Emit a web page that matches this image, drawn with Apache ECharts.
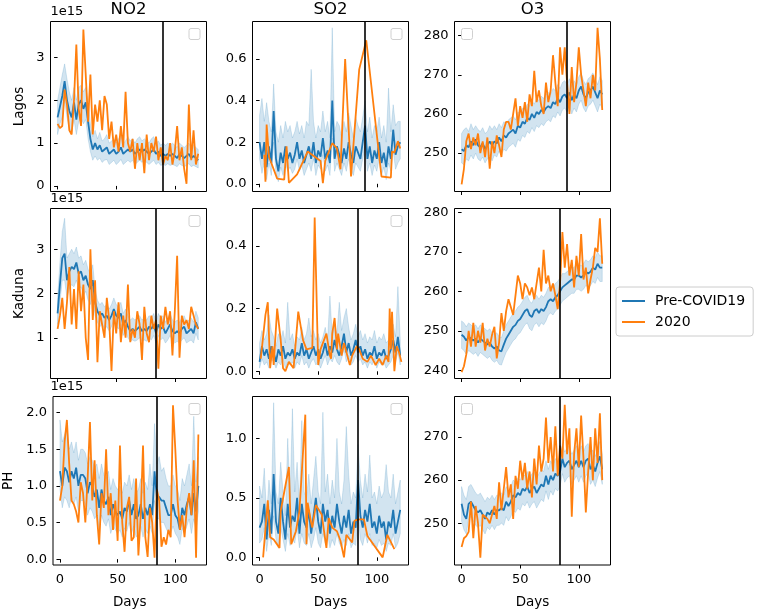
<!DOCTYPE html>
<html><head><meta charset="utf-8">
<script src="https://cdn.jsdelivr.net/npm/echarts@6/dist/echarts.min.js"></script>
<style>html,body{margin:0;padding:0;background:#fff}#c{width:761px;height:610px}</style>
</head><body><div id="c"></div>
<script>
// ---------------- DATA ----------------
const days = [0,2,4,6,8,10,12,14,16,18,20,22,24,26,28,30,32,34,36,38,40,42,44,46,48,50,52,54,56,58,
  60,62,64,66,68,70,72,74,76,78,80,82,84,86,88,90,92,94,96,98,100,102,104,106,108,110,112,114,116,118,120];
const rowNames = ['Lagos','Kaduna','PH'];
const colNames = ['NO2','SO2','O3'];
const cutoffDays = [90, 84, 84];
const xTicks = [0, 50, 100];
const seriesNames = ['Pre-COVID19', '2020'];
const sciLabel = '1e15';

// Lagos NO2 (x1e15)
const lagosNO2Mean = [1.6,1.85,2.1,2.45,2.0,1.75,1.6,1.95,1.55,1.9,
 2.0,1.8,1.95,1.5,1.1,0.85,1.0,0.85,0.95,0.8,
 0.85,0.9,0.75,0.8,0.85,0.75,0.8,0.9,0.75,0.8,
 0.85,0.8,0.85,0.75,0.8,0.85,0.8,0.85,0.8,0.75,
 0.8,0.85,0.75,0.8,0.7,0.75,0.7,0.75,0.7,0.75,
 0.7,0.65,0.75,0.7,0.65,0.7,0.75,0.65,0.7,0.65,
 0.6];
const lagosNO2Hi = [2.0,2.3,2.6,2.85,2.5,2.2,2.0,2.3,2.0,2.3,
 2.35,2.2,2.3,1.95,1.45,1.15,1.3,1.1,1.25,1.05,
 1.1,1.2,1.0,1.05,1.1,1.0,1.1,1.2,1.0,1.05,
 1.15,1.05,1.1,1.0,1.1,1.15,1.05,1.1,1.05,1.0,
 1.1,1.15,1.0,1.05,0.95,1.0,0.95,1.0,0.95,1.0,
 0.95,0.9,1.0,0.95,0.9,0.95,1.0,0.9,0.95,0.9,
 0.85];
const lagosNO2Lo = [1.2,1.45,1.6,2.0,1.6,1.35,1.25,1.55,1.2,1.5,
 1.6,1.45,1.55,1.1,0.8,0.6,0.7,0.6,0.65,0.55,
 0.6,0.62,0.5,0.55,0.6,0.5,0.55,0.62,0.5,0.55,
 0.6,0.55,0.6,0.5,0.55,0.6,0.55,0.6,0.55,0.5,
 0.55,0.6,0.5,0.55,0.48,0.5,0.48,0.52,0.48,0.5,
 0.48,0.45,0.52,0.48,0.45,0.48,0.52,0.45,0.48,0.45,
 0.42];
const lagosNO2_2020 = [1.45,1.35,1.4,2.25,1.9,1.3,1.2,2.0,3.3,1.8,
 1.4,3.65,2.6,1.5,2.6,1.2,1.9,1.5,2.0,1.3,
 2.1,1.9,1.1,1.5,0.9,1.2,0.8,1.4,0.9,2.2,
 1.0,0.8,1.1,0.4,1.0,0.6,1.0,0.3,1.2,0.6,
 1.0,0.8,1.15,0.6,0.9,0.5,0.7,0.6,1.0,0.5,
 0.8,1.4,0.6,0.9,0.4,0.05,1.9,0.6,1.3,0.5,
 0.75];

// Lagos SO2
const lagosSO2Mean = [0.2,0.12,0.2,0.08,0.18,0.1,0.35,0.12,0.06,0.15,
 0.1,0.18,0.12,0.15,0.1,0.14,0.2,0.12,0.16,0.1,
 0.14,0.18,0.12,0.2,0.1,0.16,0.13,0.22,0.12,0.16,
 0.1,0.4,0.12,0.18,0.14,0.1,0.17,0.12,0.2,0.14,
 0.1,0.18,0.15,0.12,0.2,0.28,0.12,0.18,0.1,0.16,
 0.12,0.2,0.1,0.15,0.08,0.18,0.12,0.26,0.14,0.18,
 0.2];
const lagosSO2Hi = [0.33,0.41,0.3,0.39,0.3,0.25,0.48,0.25,0.2,0.28,
 0.22,0.3,0.25,0.28,0.22,0.25,0.3,0.24,0.28,0.22,
 0.3,0.28,0.55,0.3,0.22,0.28,0.25,0.35,0.25,0.3,
 0.22,0.75,0.25,0.3,0.28,0.22,0.3,0.25,0.34,0.28,
 0.22,0.32,0.28,0.25,0.32,0.4,0.25,0.32,0.22,0.28,
 0.25,0.32,0.22,0.28,0.2,0.46,0.25,0.38,0.28,0.3,
 0.3];
const lagosSO2Lo = [0.12,0.05,0.1,0.02,0.1,0.04,0.2,0.05,0.01,0.08,
 0.04,0.1,0.06,0.08,0.05,0.07,0.12,0.06,0.09,0.04,
 0.07,0.1,0.06,0.12,0.04,0.09,0.07,0.14,0.06,0.09,
 0.04,0.22,0.06,0.1,0.07,0.04,0.1,0.06,0.12,0.07,
 0.04,0.1,0.08,0.06,0.12,0.18,0.06,0.1,0.04,0.09,
 0.06,0.12,0.04,0.08,0.02,0.1,0.06,0.16,0.07,0.1,
 0.12];
const lagosSO2Days2020 = [4,5,6,8,15,21,23,25,32,41,52,54,56,62,66,69,73,78,85,91,104,112,113,115,118,120];
const lagosSO2_2020 = [0.14,0.01,0.285,0.13,0.025,0.02,0.18,0.005,0.045,0.155,0.11,0.003,0.11,0.195,0.17,0.07,0.6,0.035,0.55,0.69,0.035,0.03,0.155,0.15,0.205,0.17];

// Lagos O3
const lagosO3Mean = [251,250.5,252,251.5,253,252,253.5,252,251.5,252.5,
 251,252,253,252,253,252.5,254,253,254.5,254,
 255,255.5,256,255,257,256.5,258,257.5,259,258.5,
 260,259,260.5,260,261,260.5,261.5,262,261.5,263,
 262.5,264,263,264.5,265,264,265.5,263.5,265,264,
 266,267,265,264,265.5,266,267,265.5,264,266,
 265];
const lagosO3Hi = [255,256,256.5,255.5,257.5,256,257,256,255.5,256.5,
 255,255.5,257,256,257,256,257.5,256.5,258,257.5,
 258.5,259,259.5,258.5,260.5,260,261.5,261,262.5,262,
 263.5,262.5,264,263.5,264.5,264,265,265.5,265,266.5,
 266,267.5,266.5,268,268.5,267.5,269,267,268.5,267.5,
 269.5,270.5,268.5,267.5,269,269.5,270.5,269,267.5,269.5,
 268.5];
const lagosO3Lo = [247.5,247,248.5,248,249.5,248.5,250,248.5,248,249,
 247.5,248.5,249.5,248,249.5,249,250.5,249.5,251,250.5,
 251.5,252,252.5,251.5,253.5,253,254.5,254,255.5,255,
 256.5,255.5,257,256.5,257.5,257,258,258.5,258,259.5,
 259,260.5,259.5,261,261.5,260.5,262,260,261.5,260.5,
 262.5,263.5,261.5,260.5,262,262.5,263.5,262,260.5,262.5,
 261.5];
const lagosO3_2020 = [242,246,253,255,251,254,252,255,250,253,
 249,254,246,253,250,254.5,252,249,256,258,
 258,256,260,264,257,262,259,263,258,265,
 262,271,263,266,262,260,268,263,266,275,
 268,262,277,270,277,268,260,272,263,268,
 277,270,266,262,268,264,270,266,282,274,
 261];

// Kaduna NO2 (x1e15)
const kadunaNO2Mean = [1.55,2.2,2.8,2.9,2.3,2.5,2.6,2.55,2.7,2.45,
 2.5,2.3,2.4,2.2,2.1,2.3,1.8,1.6,1.5,1.55,
 1.45,1.5,1.4,1.5,1.65,1.5,1.45,1.55,1.3,1.4,
 1.25,1.15,1.2,1.15,1.2,1.25,1.15,1.2,1.15,1.25,
 1.2,1.3,1.1,1.3,1.2,1.25,1.1,1.2,1.3,1.15,
 1.1,1.15,1.1,1.2,1.25,1.1,1.15,1.2,1.1,1.35,
 1.2];
const kadunaNO2Hi = [1.9,2.7,3.4,3.7,2.8,2.9,3.0,2.9,3.05,2.8,
 2.85,2.65,2.75,2.55,2.45,2.65,2.1,1.85,1.75,1.8,
 1.7,1.75,1.65,1.75,1.9,1.75,1.7,1.8,1.55,1.65,
 1.5,1.4,1.45,1.4,1.45,1.5,1.4,1.45,1.4,1.5,
 1.45,1.55,1.35,1.55,1.45,1.5,1.35,1.45,1.55,1.4,
 1.35,1.4,1.35,1.45,1.5,1.35,1.4,1.45,1.35,1.6,
 1.45];
const kadunaNO2Lo = [1.3,1.8,2.3,2.3,1.9,2.1,2.2,2.15,2.3,2.1,
 2.15,1.95,2.05,1.85,1.75,1.95,1.5,1.35,1.25,1.3,
 1.2,1.25,1.15,1.25,1.4,1.25,1.2,1.3,1.05,1.15,
 1.0,0.92,0.95,0.92,0.95,1.0,0.92,0.95,0.92,1.0,
 0.95,1.05,0.88,1.05,0.95,1.0,0.88,0.95,1.05,0.92,
 0.88,0.92,0.88,0.95,1.0,0.88,0.92,0.95,0.88,1.1,
 0.95];
const kadunaNO2_2020 = [1.2,1.5,1.9,1.2,1.8,2.6,1.3,2.1,1.2,2.5,
 1.6,2.2,1.0,0.5,3.0,1.4,2.3,0.45,1.6,1.3,
 1.0,1.9,1.4,0.25,1.6,1.1,1.8,0.9,1.5,1.0,
 2.2,0.9,1.2,1.0,1.6,1.3,0.5,1.7,1.1,0.9,
 1.5,1.2,1.4,0.3,1.5,1.2,1.7,1.3,1.6,0.6,
 1.6,2.85,0.55,1.5,1.3,1.4,1.2,1.7,1.5,1.3,
 1.2];

// Kaduna SO2
const kadunaSO2Mean = [0.03,0.08,0.05,0.07,0.04,0.08,0.06,0.03,0.07,0.05,
 0.08,0.04,0.06,0.05,0.07,0.04,0.06,0.05,0.09,0.05,
 0.07,0.04,0.06,0.08,0.05,0.07,0.04,0.06,0.09,0.05,
 0.08,0.06,0.1,0.07,0.05,0.08,0.12,0.06,0.09,0.05,
 0.07,0.1,0.06,0.08,0.05,0.07,0.04,0.06,0.05,0.08,
 0.04,0.06,0.05,0.07,0.04,0.05,0.07,0.1,0.06,0.11,
 0.05];
const kadunaSO2Hi = [0.09,0.13,0.1,0.12,0.18,0.13,0.11,0.08,0.12,0.1,
 0.13,0.09,0.22,0.1,0.12,0.08,0.11,0.1,0.14,0.1,
 0.12,0.17,0.11,0.13,0.1,0.12,0.09,0.11,0.14,0.1,
 0.24,0.11,0.15,0.12,0.22,0.13,0.17,0.2,0.14,0.1,
 0.12,0.15,0.11,0.13,0.1,0.12,0.09,0.11,0.1,0.13,
 0.09,0.11,0.1,0.12,0.09,0.1,0.12,0.15,0.11,0.27,
 0.1];
const kadunaSO2Lo = [0.01,0.04,0.02,0.03,0.01,0.04,0.03,0.01,0.03,0.02,
 0.04,0.01,0.03,0.02,0.03,0.01,0.03,0.02,0.05,0.02,
 0.03,0.01,0.03,0.04,0.02,0.03,0.01,0.03,0.05,0.02,
 0.04,0.03,0.05,0.03,0.02,0.04,0.07,0.03,0.05,0.02,
 0.03,0.05,0.03,0.04,0.02,0.03,0.01,0.03,0.02,0.04,
 0.01,0.03,0.02,0.03,0.01,0.02,0.03,0.05,0.03,0.06,
 0.02];
const kadunaSO2Days2020 = [1,5,7,9,11,12,15,18,20,22,25,29,33,37,40,45,47,50,52,57,
 60,61,62,64,66,67,70,72,77,79,83,85,88,92,95,99,102,105,108,110,111,112,113,115,117,119,121];
const kadunaSO2_2020 = [0.04,0.18,0.22,0.01,0.08,0.02,0.2,0.1,0.01,0.0,0.03,0.01,0.19,0.1,0.07,0.075,0.49,0.02,0.07,0.12,
 0.05,0.04,0.12,0.17,0.07,0.12,0.05,0.09,0.02,0.05,0.08,0.07,0.04,0.03,0.05,0.02,0.04,0.02,0.05,0.03,0.2,0.07,0.19,0.0,0.08,0.06,0.03];

// Kaduna O3
const kadunaO3Mean = [249,248.5,247.5,248.5,248,247.5,248,247,248,247.5,
 247,246.5,247,246,245.5,246,245,244.8,246.5,248,
 249,250,251,251.5,252.5,253,254,255,255.5,254,
 253.5,255,255.5,254.5,255.5,255,256,257.5,258,257.5,
 258.5,259,260,261,261.5,262,262.5,263,263,264,
 264,263.5,264,265,264.5,265,266,265.5,267,266,
 266];
const kadunaO3Hi = [252.5,252,251,252,251.5,251,251.5,250.5,251.5,251,
 250.5,250,250.5,249.5,249,249.5,248.5,248.3,250,251.5,
 252.5,253.5,254.5,255,256,256.5,257.5,258.5,259,257.5,
 257,258.5,259,258,259,258.5,259.5,261,261.5,261,
 262,262.5,263.5,264.5,264.5,265,265.5,266,266,267,
 267,266.5,267,268,267.5,268,269,268.5,270,269,
 269];
const kadunaO3Lo = [245.5,245,244,245,244.5,244,244.5,243.5,244.5,244,
 243.5,243,243.5,242.5,242,242.5,241.5,241.3,243,244.5,
 245.5,246.5,247.5,248,249,249.5,250.5,251.5,252,250.5,
 250,251.5,252,251,252,251.5,252.5,254,254.5,254,
 255,255.5,256.5,257.5,258,258.5,259,259.5,259.5,260.5,
 260.5,260,260.5,261.5,261,261.5,262.5,262,263.5,262.5,
 262.5];
const kadunaO3_2020 = [239.5,241,244,250,246,252,246,250,247,252,
 245,248,246,249,251,243,247,254.5,250,255,
 258,256,254,259,264,262,258,262,261,259,
 261,258,262,266,260,270.5,262,264,260,262,
 259,255.5,262,275,266,272,264,268,261,269,
 264,274.5,263,266,259.5,263,266,271,270,278.5,
 267];

// PH NO2 (x1e15)
const phNO2Mean = [1.2,1.0,1.25,1.2,1.05,1.2,1.1,1.25,1.0,1.15,
 1.15,1.1,0.9,1.05,1.0,0.85,0.95,0.7,0.95,0.8,
 0.75,0.85,0.6,0.75,0.65,0.6,0.65,0.55,0.7,0.65,
 0.8,0.6,0.75,0.55,0.6,0.75,0.55,0.7,0.6,0.75,
 0.6,1.2,0.85,0.85,0.8,0.8,0.7,0.6,0.6,0.75,
 0.6,0.55,0.4,0.7,0.6,0.75,0.85,0.6,0.9,0.65,
 1.0];
const phNO2Hi = [1.9,1.6,1.7,1.8,1.5,1.6,1.45,1.6,1.35,1.5,
 1.5,1.45,1.3,1.4,1.35,1.25,1.3,1.1,1.3,1.15,
 1.1,1.2,0.95,1.1,1.0,0.95,1.0,0.9,1.05,1.0,
 1.15,0.95,1.1,0.9,0.95,1.1,0.9,1.05,0.95,1.3,
 1.0,1.85,1.3,1.4,1.2,1.25,1.1,1.0,1.0,1.15,
 1.0,0.95,0.8,1.1,1.0,1.15,1.3,1.0,1.95,1.05,
 1.4];
const phNO2Lo = [0.95,0.7,0.85,0.8,0.7,0.85,0.75,0.85,0.65,0.8,
 0.8,0.75,0.6,0.7,0.65,0.55,0.6,0.4,0.6,0.5,
 0.45,0.55,0.35,0.45,0.4,0.35,0.4,0.3,0.42,0.38,
 0.5,0.35,0.45,0.3,0.35,0.45,0.3,0.42,0.35,0.45,
 0.35,0.8,0.55,0.55,0.5,0.5,0.42,0.35,0.35,0.45,
 0.35,0.3,0.2,0.42,0.35,0.45,0.55,0.35,0.55,0.4,
 0.65];
const phNO2_2020 = [0.8,1.0,1.6,1.9,1.3,0.8,0.75,0.65,0.5,1.05,
 0.9,0.5,1.1,1.87,0.8,1.35,0.6,0.2,0.9,0.7,
 1.5,0.6,0.9,0.4,0.8,0.25,1.55,0.5,0.1,0.7,
 0.85,0.25,0.3,1.1,0.05,0.6,1.55,0.3,0.03,0.7,
 0.5,0.02,0.95,0.8,0.17,0.3,0.2,0.4,0.3,2.1,
 1.5,0.8,0.4,0.6,0.3,0.7,0.9,0.6,1.35,0.02,
 1.7];

// PH SO2
const phSO2Mean = [0.25,0.3,0.45,0.15,0.4,0.2,0.7,0.3,0.2,0.5,
 0.3,0.15,0.45,0.25,0.35,0.3,0.5,0.2,0.45,0.3,
 0.25,0.4,0.2,0.35,0.5,0.3,0.2,0.45,0.3,0.4,
 0.2,0.35,0.25,0.45,0.3,0.2,0.35,0.25,0.4,0.2,
 0.3,0.25,0.65,0.35,0.25,0.4,0.3,0.45,0.25,0.3,
 0.2,0.35,0.25,0.3,0.15,0.3,0.25,0.4,0.2,0.3,
 0.4];
const phSO2Hi = [0.6,0.5,0.75,0.35,0.65,0.45,1.3,0.55,0.45,0.8,
 0.55,0.35,1.0,0.5,1.25,0.55,0.8,0.45,1.15,0.55,
 0.5,0.7,0.45,0.65,0.85,0.55,0.45,1.22,0.55,0.7,
 0.45,0.65,0.5,1.0,0.55,0.45,0.65,1.1,0.7,0.45,
 0.55,0.5,0.95,0.65,0.5,0.7,0.55,0.86,0.5,0.55,
 0.45,0.6,0.5,0.55,0.78,0.55,0.5,0.7,0.45,0.55,
 0.65];
const phSO2Lo = [0.12,0.15,0.25,0.05,0.2,0.1,0.35,0.15,0.08,0.25,
 0.15,0.05,0.2,0.1,0.15,0.12,0.25,0.08,0.2,0.12,
 0.1,0.2,0.08,0.15,0.25,0.12,0.08,0.2,0.12,0.2,
 0.08,0.15,0.1,0.2,0.12,0.08,0.15,0.1,0.2,0.08,
 0.12,0.1,0.35,0.15,0.1,0.2,0.12,0.2,0.1,0.12,
 0.08,0.15,0.1,0.12,0.05,0.12,0.1,0.2,0.08,0.12,
 0.2];
const phSO2Days2020 = [3,7,9,12,17,18,25,27,31,34,39,40,41,44,45,48,53,57,59,62,66,69,72,74,79,81,85,89,92,105,109,115];
const phSO2_2020 = [0.0,0.48,0.17,0.15,0.08,0.39,0.76,0.11,0.22,0.39,1.2,0.11,0.46,0.29,0.25,0.44,0.36,0.08,0.33,0.25,0.22,0.14,0.0,0.19,0.125,0.31,0.32,0.32,0.18,0.0,0.19,0.07];

// PH O3
const phO3Mean = [254.5,252,251,254.5,255,254,253,252.5,253,252,
 251,252.5,252,253,252,253,253,253.5,253,255,
 254,255,256.5,256,257,256.5,258,257.5,258.5,257,
 258,258.5,257,258,259,258.5,261,259,261,260,
 261.5,261,262,265,263,264,264.5,262.5,263.5,264.5,
 263,264.5,263,264.5,265,262.5,263.5,262,264,265.5,
 262.5];
const phO3Hi = [258.5,256.5,255.5,258.5,259,258,257,256.5,257,256,
 255,256,255.5,256.5,255.5,256.5,256.5,257,256.5,258.5,
 257.5,258.5,260,259.5,260.5,260,261.5,261,262,260.5,
 261.5,262,260.5,261.5,262.5,262,264.5,262.5,264.5,263.5,
 265,264.5,265.5,268.5,266.5,267.5,268,266,267,268,
 266.5,268,266.5,268,268.5,266,267,265.5,267.5,269,
 266];
const phO3Lo = [250.5,248.5,247.5,251,251.5,250.5,249.5,249,249.5,248.5,
 247.5,249,248.5,249.5,248.5,249.5,249.5,250,249.5,251.5,
 250.5,251.5,253,252.5,253.5,253,254.5,254,255,253.5,
 254.5,255,253.5,254.5,255.5,255,257.5,255.5,257.5,256.5,
 258,257.5,258.5,261.5,259.5,260.5,261,259,260,261,
 259.5,261,259.5,261,261.5,259,260,258.5,260.5,262,
 259];
const phO3_2020 = [244.5,246.5,247,248,255,246.5,254,250,242,252,
 251.5,251,250,252,254,251,259.5,253,258,263,
 256,259,251,261,258,264.5,260,264,258,262,
 256,265,259,268,262,265,274.5,264,270,262,
 272.5,261,268,265,277.5,266,272,251.5,266,272,
 263,275,265,252.5,262,270,260,272,264,275.5,
 260];

// per-panel axis tick labels
const yTicksNO2 = [[0,1,2,3],[1,2,3],[0,0.5,1.0,1.5,2.0]];
const yTicksSO2 = [[0,0.2,0.4,0.6],[0,0.2,0.4],[0,0.5,1.0]];
const yTicksO3  = [[250,260,270,280],[240,250,260,270,280],[250,260,270]];

// ---------------- PANEL DEFINITIONS ----------------
const panels = [
  {mean:lagosNO2Mean, hi:lagosNO2Hi, lo:lagosNO2Lo, oDays:days, o:lagosNO2_2020, yMin:-0.13, yMax:3.84, ticks:yTicksNO2[0], dec:0, box:'tr', sci:true},
  {mean:lagosSO2Mean, hi:lagosSO2Hi, lo:lagosSO2Lo, oDays:lagosSO2Days2020, o:lagosSO2_2020, yMin:-0.037, yMax:0.78, ticks:yTicksSO2[0], dec:1, box:'tr'},
  {mean:lagosO3Mean, hi:lagosO3Hi, lo:lagosO3Lo, oDays:days, o:lagosO3_2020, yMin:240.2, yMax:283.6, ticks:yTicksO3[0], dec:0, box:'tl'},
  {mean:kadunaNO2Mean, hi:kadunaNO2Hi, lo:kadunaNO2Lo, oDays:days, o:kadunaNO2_2020, yMin:0.08, yMax:3.92, ticks:yTicksNO2[1], dec:0, box:'tr', sci:true},
  {mean:kadunaSO2Mean, hi:kadunaSO2Hi, lo:kadunaSO2Lo, oDays:kadunaSO2Days2020, o:kadunaSO2_2020, yMin:-0.023, yMax:0.519, ticks:yTicksSO2[1], dec:1, box:'tr'},
  {mean:kadunaO3Mean, hi:kadunaO3Hi, lo:kadunaO3Lo, oDays:days, o:kadunaO3_2020, yMin:237.9, yMax:281.0, ticks:yTicksO3[1], dec:0, box:null},
  {mean:phNO2Mean, hi:phNO2Hi, lo:phNO2Lo, oDays:days, o:phNO2_2020, yMin:-0.08, yMax:2.22, ticks:yTicksNO2[2], dec:1, box:'tr', sci:true},
  {mean:phSO2Mean, hi:phSO2Hi, lo:phSO2Lo, oDays:phSO2Days2020, o:phSO2_2020, yMin:-0.064, yMax:1.3525, ticks:yTicksSO2[2], dec:1, box:'tr'},
  {mean:phO3Mean, hi:phO3Hi, lo:phO3Lo, oDays:days, o:phO3_2020, yMin:240.3, yMax:279.4, ticks:yTicksO3[2], dec:0, box:'tl'}
];

// ---------------- LAYOUT ----------------
const FONT = 'DejaVu Sans';
const colLeft = [50.5, 252.5, 454.5];
const rowTop = [21.5, 208.5, 396.5];
const W = 156, H = 170;
const xMin = -6.05, xMax = 127.05;
const BLUE = '#1f77b4', ORANGE = '#ff7f0e';
const yNameGap = [24, 24, 38];

const grids = [], xAxes = [], yAxes = [], series = [], graphics = [];
panels.forEach((p, i) => {
  const r = Math.floor(i / 3), c = i % 3;
  const left = colLeft[c], top = rowTop[r];
  grids.push({left:left, top:top, width:W, height:H, show:true, borderColor:'#000', borderWidth:1, backgroundColor:'rgba(0,0,0,0)'});
  xAxes.push({type:'value', gridIndex:i, min:xMin, max:xMax,
    axisLine:{show:false}, splitLine:{show:false},
    axisTick:{show:true, customValues:xTicks, length:3.5, lineStyle:{color:'#000', width:1}},
    axisLabel:{show:r===2, customValues:xTicks, color:'#000', fontSize:13, fontFamily:FONT, margin:8},
    name: r===2 ? 'Days' : '', nameLocation:'middle', nameGap:30,
    nameTextStyle:{color:'#000', fontSize:13.5, fontFamily:FONT}});
  yAxes.push({type:'value', gridIndex:i, min:p.yMin, max:p.yMax,
    axisLine:{show:false}, splitLine:{show:false},
    axisTick:{show:true, customValues:p.ticks, length:3.5, lineStyle:{color:'#000', width:1}},
    axisLabel:{customValues:p.ticks, color:'#000', fontSize:13, fontFamily:FONT, margin:6,
      formatter:(v)=>Number(v).toFixed(p.dec)},
    name: c===0 ? rowNames[r] : '', nameLocation:'middle', nameGap:yNameGap[r], nameRotate:90,
    nameTextStyle:{color:'#000', fontSize:13.5, fontFamily:FONT}});
  // confidence band
  series.push({type:'custom', xAxisIndex:i, yAxisIndex:i, silent:true, z:1, clip:true,
    data:[[days[0], p.lo[0]]],
    renderItem:(params, api) => {
      const pts = [];
      for (let k = 0; k < days.length; k++) pts.push(api.coord([days[k], p.hi[k]]));
      for (let k = days.length - 1; k >= 0; k--) pts.push(api.coord([days[k], p.lo[k]]));
      return {type:'polygon', shape:{points:pts},
        style:{fill:'rgba(31,119,180,0.2)', stroke:'rgba(31,119,180,0.22)', lineWidth:0.8}};
    }});
  series.push({type:'line', name:seriesNames[0], xAxisIndex:i, yAxisIndex:i, z:2,
    data:days.map((d,k)=>[d, p.mean[k]]), showSymbol:false, symbol:'none',
    lineStyle:{color:BLUE, width:1.8}, itemStyle:{color:BLUE}, animation:false});
  series.push({type:'line', name:seriesNames[1], xAxisIndex:i, yAxisIndex:i, z:3,
    data:p.oDays.map((d,k)=>[d, p.o[k]]), showSymbol:false, symbol:'none',
    lineStyle:{color:ORANGE, width:1.8}, itemStyle:{color:ORANGE}, animation:false,
    markLine:{silent:true, symbol:['none','none'], label:{show:false}, animation:false,
      lineStyle:{color:'#000', width:1.6, type:'solid'}, data:[{xAxis:cutoffDays[r]}]}});
  if (p.box) {
    const bx = p.box === 'tr' ? left + W - 17.5 : left + 7;
    graphics.push({type:'rect', shape:{x:bx, y:top + 7, width:11, height:11, r:2},
      style:{fill:'#fff', stroke:'#d0d0d0', lineWidth:1}, z:10});
  }
  if (p.sci) {
    graphics.push({type:'text', x:left, y:top - 10, z:10,
      style:{text:sciLabel, fill:'#000', fontSize:13, fontFamily:FONT, align:'left', verticalAlign:'middle'}});
  }
});
colNames.forEach((t, c) => {
  graphics.push({type:'text', x:colLeft[c] + W/2, y:10, z:10,
    style:{text:t, fill:'#000', fontSize:16.5, fontFamily:FONT, align:'center', verticalAlign:'middle'}});
});

const chart = echarts.init(document.getElementById('c'), null, {renderer:'canvas'});
chart.setOption({
  animation:false,
  backgroundColor:'#fff',
  grid:grids, xAxis:xAxes, yAxis:yAxes, series:series, graphic:graphics,
  legend:{data:seriesNames.map(n=>({name:n, icon:'rect'})), orient:'vertical', left:616, top:287,
    itemWidth:23, itemHeight:2, itemGap:7,
    padding:[7,8,7,6], borderColor:'#cccccc', borderWidth:1, borderRadius:3, backgroundColor:'#fff',
    textStyle:{color:'#000', fontSize:14, fontFamily:FONT, padding:[0,0,0,5]}, selectedMode:false}
});
</script></body></html>
